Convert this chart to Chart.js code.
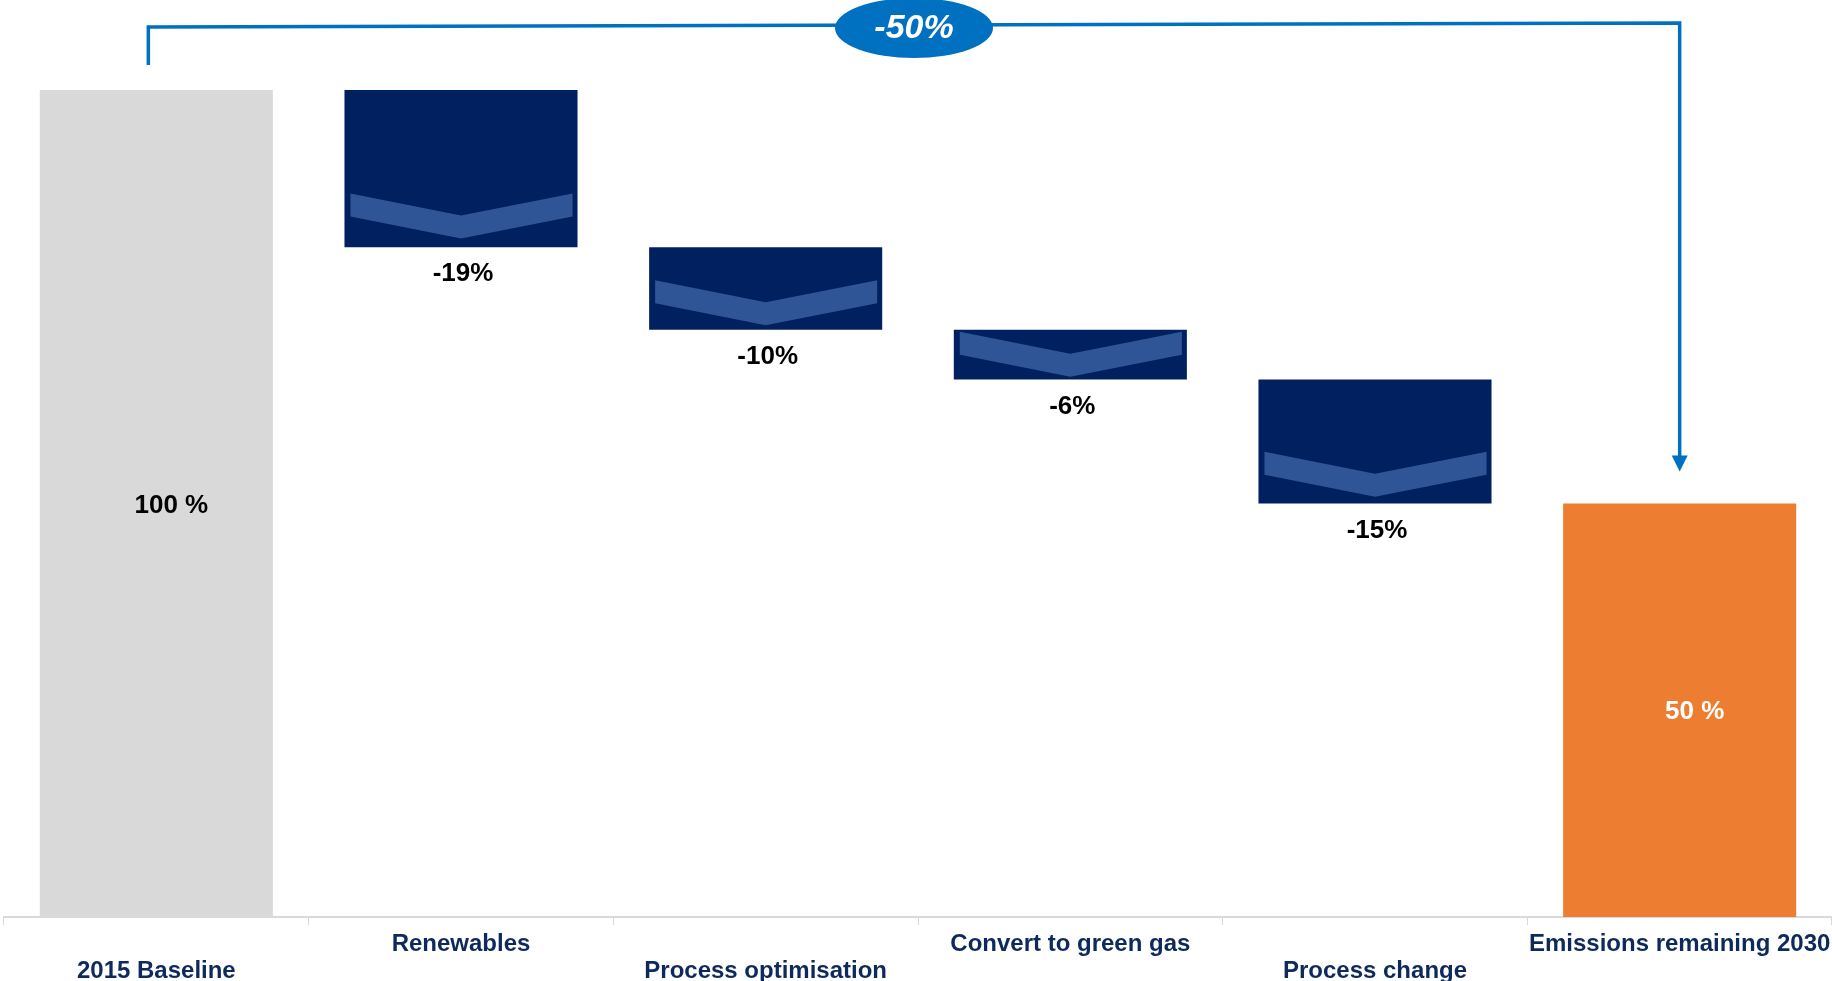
<!DOCTYPE html>
<html>
<head>
<meta charset="utf-8">
<script src="https://cdn.jsdelivr.net/npm/chart.js@4"></script>
<style>
    html, body { margin: 0; padding: 0; background: #fff; overflow: hidden; }
    #wrap { width: 1832px; height: 991px; position: relative; }
</style>
</head>
<body>
<div id="wrap"><canvas id="waterfallChart"></canvas></div>
<script>

// ===== DATA =====
const categories = ["2015 Baseline", "Renewables", "Process optimisation", "Convert to green gas", "Process change", "Emissions remaining 2030"];
const startValue = 100;
const reductions = [19, 10, 6, 15];
const endValue = 50;
const totalChange = -50;

// ===== COLOURS =====
const GREY = "#D9D9D9";
const NAVY = "#00205F";
const CHEVRON = "#2F5597";
const ORANGE = "#ED7D31";
const BRACKET = "#0070C0";
const FONT = "'Liberation Sans', Arial, sans-serif";

// floating bars built from the values above
const ranges = [[0, startValue]];
let level = startValue;
reductions.forEach(r => {
    ranges.push([level - r, level]);
    level -= r;
});
ranges.push([0, endValue]);

const barColors = ranges.map((r, i) => {
    if (i === 0) return GREY;
    if (i === ranges.length - 1) return ORANGE;
    return NAVY;
});

// staggered axis labels (every other one pushed to a second line)
const axisLabels = categories.map((c, i) => i % 2 === 0 ? ["", c] : [c, ""]);


// ================= PLUGIN: chevrons + value labels =================
const waterfallDecor = {
    id: "waterfallDecor",
    afterDatasetsDraw(chart) {
        const ctx = chart.ctx;
        const meta = chart.getDatasetMeta(0);

        meta.data.forEach((bar, i) => {
            const left = bar.x - bar.width / 2;
            const right = bar.x + bar.width / 2;
            const top = Math.min(bar.y, bar.base);
            const bottom = Math.max(bar.y, bar.base);
            const h = bottom - top;

            ctx.save();

            if (i > 0 && i < meta.data.length - 1) {
                // chevron inside the reduction bar
                ctx.beginPath();
                ctx.rect(left, top, right - left, h);
                ctx.clip();

                const gap = Math.max(2, h * 0.055);
                const midBottom = bottom - gap;
                const midTop = midBottom - 23;
                const sideBottom = midBottom - 22;
                const sideTop = sideBottom - 23;
                const l = left + 6;
                const r = right - 5;

                ctx.beginPath();
                ctx.moveTo(l, sideTop);
                ctx.lineTo(bar.x, midTop);
                ctx.lineTo(r, sideTop);
                ctx.lineTo(r, sideBottom);
                ctx.lineTo(bar.x, midBottom);
                ctx.lineTo(l, sideBottom);
                ctx.closePath();
                ctx.fillStyle = CHEVRON;
                ctx.fill();
                ctx.restore();
                ctx.save();

                ctx.font = "bold 26px " + FONT;
                ctx.fillStyle = "#000";
                ctx.textAlign = "center";
                ctx.textBaseline = "middle";
                ctx.fillText("-" + reductions[i - 1] + "%", bar.x + 2, bottom + 27);
            } else {
                const value = i === 0 ? startValue : endValue;
                ctx.font = "bold 26px " + FONT;
                ctx.fillStyle = i === 0 ? "#000" : "#fff";
                ctx.textAlign = "center";
                ctx.textBaseline = "middle";
                ctx.fillText(value + " %", bar.x + 15, (top + bottom) / 2 + 2);
            }

            ctx.restore();
        });
    }
};


// ================= PLUGIN: -50% bracket =================
const bracketPlugin = {
    id: "bracketPlugin",
    afterDraw(chart) {
        const ctx = chart.ctx;
        const x = chart.scales.x;
        const y = chart.scales.y;

        const leftX = x.getPixelForValue(0) - 8;
        const rightX = x.getPixelForValue(categories.length - 1);
        const leftY = 27;
        const rightY = 23;
        const legBottom = y.getPixelForValue(startValue) - 25;
        const arrowTip = y.getPixelForValue(endValue) - 32;

        ctx.save();
        ctx.strokeStyle = BRACKET;
        ctx.fillStyle = BRACKET;
        ctx.lineWidth = 3.5;

        ctx.beginPath();
        ctx.moveTo(leftX, legBottom);
        ctx.lineTo(leftX, leftY);
        ctx.lineTo(rightX, rightY);
        ctx.lineTo(rightX, arrowTip - 12);
        ctx.stroke();

        // arrow head
        ctx.beginPath();
        ctx.moveTo(rightX - 8, arrowTip - 16);
        ctx.lineTo(rightX + 8, arrowTip - 16);
        ctx.lineTo(rightX, arrowTip);
        ctx.closePath();
        ctx.fill();

        // bubble
        const cx = (leftX + rightX) / 2;
        const cy = 28;
        ctx.beginPath();
        ctx.ellipse(cx, cy, 79, 30, 0, 0, Math.PI * 2);
        ctx.fill();

        ctx.font = "italic bold 34px " + FONT;
        ctx.fillStyle = "#fff";
        ctx.textAlign = "center";
        ctx.textBaseline = "middle";
        ctx.fillText(totalChange + "%", cx, cy + 1);

        ctx.restore();
    }
};


// ================= CHART =================
const ctx = document.getElementById("waterfallChart").getContext("2d");

new Chart(ctx, {
    type: "bar",
    data: {
        labels: axisLabels,
        datasets: [{
            data: ranges,
            backgroundColor: barColors,
            borderWidth: 0,
            barPercentage: 0.765,
            categoryPercentage: 1
        }]
    },
    options: {
        responsive: true,
        maintainAspectRatio: false,
        animation: false,
        layout: {
            padding: { top: 90, left: 4, right: -6, bottom: 0 }
        },
        plugins: {
            legend: { display: false },
            tooltip: { enabled: false }
        },
        scales: {
            x: {
                afterFit(scale) {
                    // let the last label run to the edge like the original
                    scale.paddingLeft = 0;
                    scale.paddingRight = 0;
                },
                grid: {
                    offset: true,
                    drawOnChartArea: false,
                    drawTicks: true,
                    tickLength: 8,
                    color: GREY
                },
                border: { color: GREY, width: 2 },
                ticks: {
                    color: "#0E2A5C",
                    padding: 6,
                    maxRotation: 0,
                    minRotation: 0,
                    autoSkip: false,
                    font: { family: FONT, size: 24, weight: "bold", lineHeight: 1.125 }
                }
            },
            y: {
                display: false,
                min: 0,
                max: 100
            }
        }
    },
    plugins: [waterfallDecor, bracketPlugin]
});

</script>
</body>
</html>
